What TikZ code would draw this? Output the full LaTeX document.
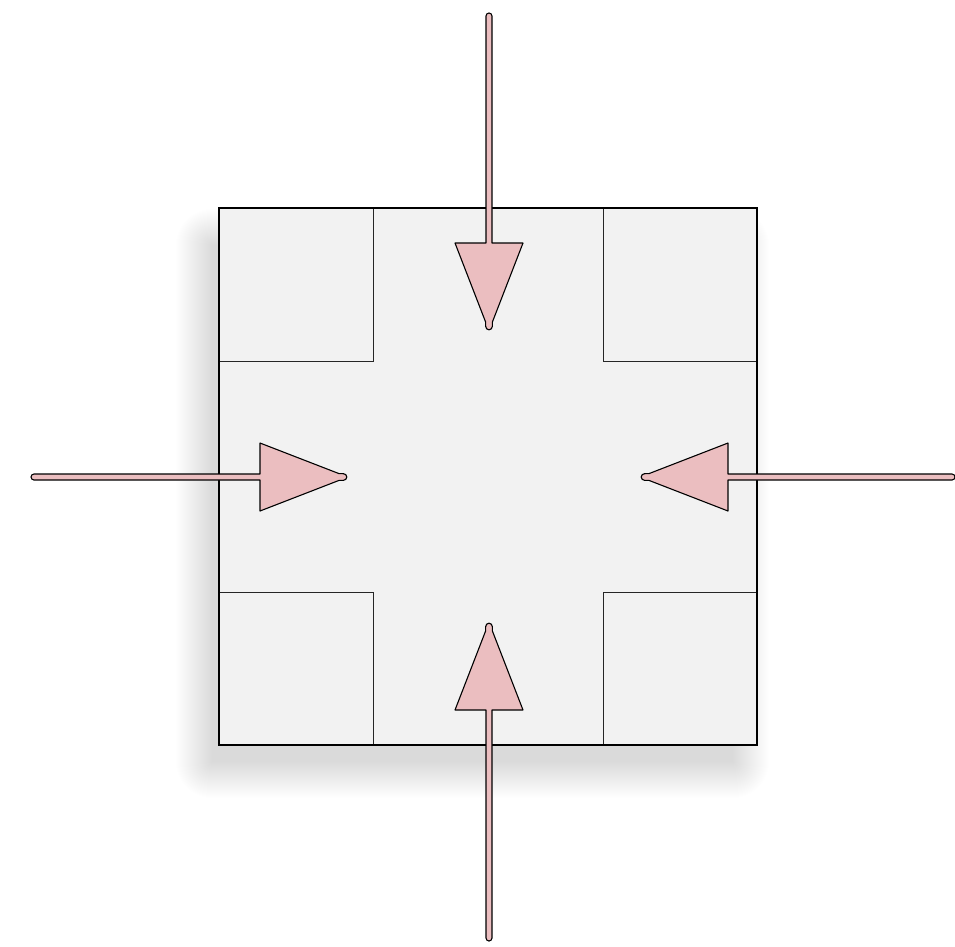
\documentclass[tikz,border=0pt]{standalone}
\usetikzlibrary{calc}
\definecolor{boxfill}{RGB}{242,242,242}
\definecolor{arrowpink}{RGB}{235,190,192}
\tikzset{
  outerbox/.style={draw=black, line width=2.4pt, fill=boxfill, minimum width=538pt, minimum height=537pt, inner sep=0pt, outer sep=0pt},
  cornerline/.style={draw=black!85, line width=0.9pt},
  barrow/.pic={
    \path[fill=arrowpink, draw=black, line width=1.1pt, line join=round]
      (0,3) -- (#1-87,3) -- (#1-87,34) -- (#1-8,3.4)
      .. controls (#1-6,3.3) .. (#1-3.5,3.3)
      arc[start angle=90, end angle=-90, radius=3.3]
      .. controls (#1-6,-3.3) .. (#1-8,-3.4)
      -- (#1-87,-34) -- (#1-87,-3) -- (0,-3)
      arc[start angle=270, end angle=90, radius=3] -- cycle;
  }
}
\begin{document}
\begin{tikzpicture}[x=1pt,y=-1pt]
\useasboundingbox (0,0) rectangle (955,946);
% soft shadow
\foreach \r in {0,1,...,36}{
  \fill[black, opacity=0.0035, rounded corners=\r pt] (212-\r,245-\r) rectangle (733+\r,762+\r);
}
\node[outerbox] (box) at (488,476.5) {};
% corner squares
\coordinate (tl) at (373,361);
\coordinate (tr) at (603,361);
\coordinate (bl) at (373,592);
\coordinate (br) at (603,592);
\draw[cornerline] (box.north west -| tl) -- (tl) -- (tl -| box.west);
\draw[cornerline] (box.north west -| tr) -- (tr) -- (tr -| box.east);
\draw[cornerline] (box.south west -| bl) -- (bl) -- (bl -| box.west);
\draw[cornerline] (box.south west -| br) -- (br) -- (br -| box.east);
\draw[black, line width=2.4pt] (box.north west) rectangle (box.south east);
% arrows
\coordinate (topstart) at (489,16);
\coordinate (botstart) at (489,938);
\coordinate (leftstart) at (34,477);
\coordinate (rightstart) at (952,477);
\pic[rotate=-90] at (topstart) {barrow=314};
\pic[rotate=90] at (botstart) {barrow=315};
\pic at (leftstart) {barrow=313};
\pic[rotate=180] at (rightstart) {barrow=311};
\end{tikzpicture}
\end{document}
